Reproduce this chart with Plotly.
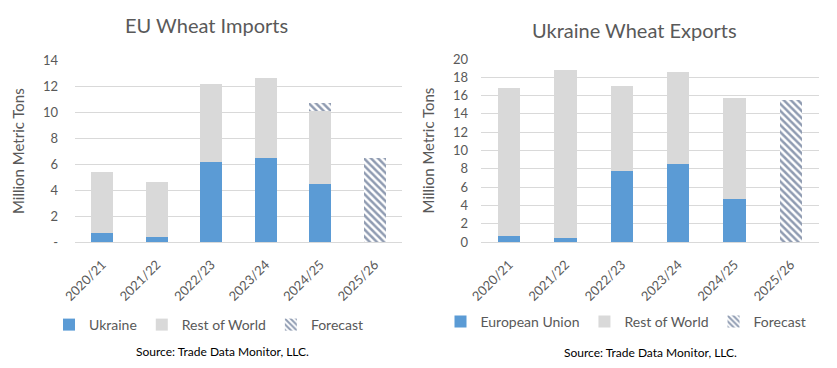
import plotly.graph_objects as go

W, H = 837, 368

seasons = ["2020/21", "2021/22", "2022/23", "2023/24", "2024/25", "2025/26"]

# EU Wheat Imports (million metric tons)
eu_from_ukraine = [0.7, 0.35, 6.15, 6.5, 4.45, None]
eu_rest_of_world = [4.7, 4.25, 6.05, 6.15, 5.65, None]
eu_forecast = [None, None, None, None, 0.6, 6.5]

# Ukraine Wheat Exports (million metric tons)
ua_to_eu = [0.7, 0.45, 7.75, 8.55, 4.65, None]
ua_rest_of_world = [16.1, 18.35, 9.35, 10.05, 11.1, None]
ua_forecast = [None, None, None, None, None, 15.5]

left_tickvals = [0, 2, 4, 6, 8, 10, 12, 14]
left_ticktext = ["-", "2", "4", "6", "8", "10", "12", "14"]
right_tickvals = [0, 2, 4, 6, 8, 10, 12, 14, 16, 18, 20]

BLUE = "#5B9BD5"
GRAY = "#D9D9D9"
NAVY = "#1F3864"
TXT = "#595959"
FONT = "Lato, 'Open Sans', sans-serif"

pattern = dict(shape="\\", fgcolor=NAVY, bgcolor="white", size=5, solidity=0.5)

fig = go.Figure()

fig.add_trace(go.Bar(x=seasons, y=eu_from_ukraine, name="Ukraine", marker=dict(color=BLUE, line=dict(width=0)),
                     xaxis="x", yaxis="y", legend="legend"))
fig.add_trace(go.Bar(x=seasons, y=eu_rest_of_world, name="Rest of World", marker=dict(color=GRAY, line=dict(width=0)),
                     xaxis="x", yaxis="y", legend="legend"))
fig.add_trace(go.Bar(x=seasons, y=eu_forecast, name="Forecast",
                     marker=dict(color="white", line=dict(width=0), pattern=pattern),
                     xaxis="x", yaxis="y", legend="legend"))

fig.add_trace(go.Bar(x=seasons, y=ua_to_eu, name="European Union", marker=dict(color=BLUE, line=dict(width=0)),
                     xaxis="x2", yaxis="y2", legend="legend2"))
fig.add_trace(go.Bar(x=seasons, y=ua_rest_of_world, name="Rest of World", marker=dict(color=GRAY, line=dict(width=0)),
                     xaxis="x2", yaxis="y2", legend="legend2"))
fig.add_trace(go.Bar(x=seasons, y=ua_forecast, name="Forecast",
                     marker=dict(color="white", line=dict(width=0), pattern=pattern),
                     xaxis="x2", yaxis="y2", legend="legend2"))

xcommon = dict(tickangle=-45, tickfont=dict(size=13, color=TXT, family=FONT), showgrid=False,
               showline=True, linecolor=GRAY, linewidth=1, ticks="", zeroline=False, fixedrange=True,
               automargin=False, ticklabelstandoff=9)
ycommon = dict(tickfont=dict(size=13, color=TXT, family=FONT), showgrid=True, gridcolor=GRAY, gridwidth=1,
               showline=False, zeroline=False, ticks="", fixedrange=True, automargin=False)

fig.update_layout(
    width=W, height=H,
    margin=dict(l=0, r=0, t=0, b=0),
    paper_bgcolor="white", plot_bgcolor="white",
    barmode="stack", bargap=0.6,
    font=dict(family=FONT, color=TXT),
    xaxis=dict(domain=[75 / W, 402 / W], anchor="y", **xcommon),
    yaxis=dict(domain=[(H - 242) / H, (H - 60.3) / H], anchor="x", range=[0, 14],
               tickvals=left_tickvals, ticktext=left_ticktext, ticklabelstandoff=16,
               title=dict(text="Million Metric Tons", font=dict(size=15, color=TXT, family=FONT), standoff=14),
               **ycommon),
    xaxis2=dict(domain=[481 / W, 819 / W], anchor="y2", **xcommon),
    yaxis2=dict(domain=[(H - 242) / H, (H - 59) / H], anchor="x2", range=[0, 20],
                tickvals=right_tickvals, ticklabelstandoff=12,
                title=dict(text="Million Metric Tons", font=dict(size=15, color=TXT, family=FONT), standoff=14),
                **ycommon),
    legend=dict(orientation="h", x=209 / W, y=(H - 325) / H, xanchor="center", yanchor="middle",
                font=dict(size=14, color=TXT, family=FONT), bgcolor="rgba(0,0,0,0)",
                traceorder="normal", itemwidth=30, tracegroupgap=0),
    legend2=dict(orientation="h", x=626 / W, y=(H - 322) / H, xanchor="center", yanchor="middle",
                 font=dict(size=14, color=TXT, family=FONT), bgcolor="rgba(0,0,0,0)",
                 traceorder="normal", itemwidth=30, tracegroupgap=0),
    annotations=[
        dict(text="EU Wheat Imports", x=206 / W, y=(H - 25) / H, xref="paper", yref="paper",
             showarrow=False, xanchor="center", yanchor="middle",
             font=dict(size=20, color=TXT, family=FONT)),
        dict(text="Ukraine Wheat Exports", x=634 / W, y=(H - 30) / H, xref="paper", yref="paper",
             showarrow=False, xanchor="center", yanchor="middle",
             font=dict(size=20, color=TXT, family=FONT)),
        dict(text="Source: Trade Data Monitor, LLC.", x=222 / W, y=(H - 351) / H, xref="paper", yref="paper",
             showarrow=False, xanchor="center", yanchor="middle",
             font=dict(size=12, color="black", family=FONT)),
        dict(text="Source: Trade Data Monitor, LLC.", x=650 / W, y=(H - 352) / H, xref="paper", yref="paper",
             showarrow=False, xanchor="center", yanchor="middle",
             font=dict(size=12, color="black", family=FONT)),
    ],
)

fig.write_html("out.html", config={"displayModeBar": False},
               post_script="document.body.style.margin='0';document.body.style.overflow='hidden';")
